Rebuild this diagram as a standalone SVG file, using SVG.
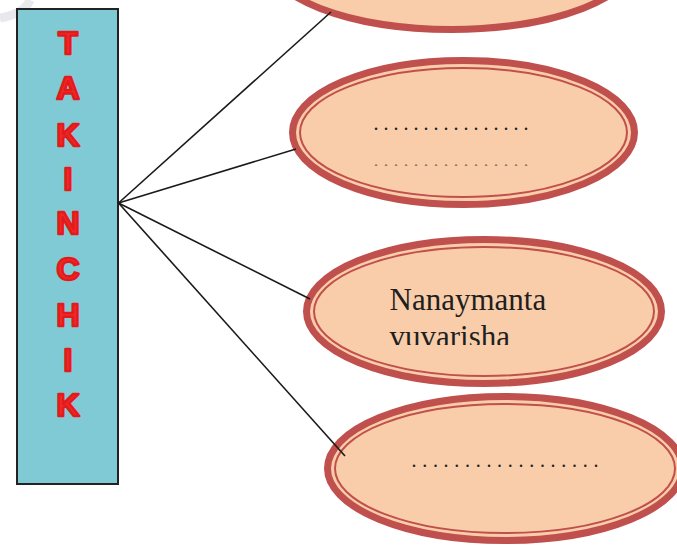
<svg xmlns="http://www.w3.org/2000/svg" width="677" height="545" viewBox="0 0 677 545">
<style>
.outer{fill:#F9CDA9;stroke:#C0504D;stroke-width:7}
.inner{fill:none;stroke:#C0504D;stroke-width:2}
.letter{font-family:"Liberation Sans",Arial,sans-serif;font-weight:bold;font-size:32px;fill:#EE2B2B;stroke:#E41A1A;stroke-width:2.6;stroke-linejoin:round;text-anchor:middle}
.dots{font-family:"Liberation Serif","Times New Roman",serif;font-size:20px;fill:#222}
.lbl{font-family:"Liberation Serif","Times New Roman",serif;font-size:31px;fill:#1f1f1f}
.conn{stroke:#1a1a1a;stroke-width:1.6;fill:none}
</style>
<defs>
<clipPath id="clipN3"><rect x="380" y="280" width="200" height="65"/></clipPath>
<clipPath id="clipN2"><rect x="360" y="110" width="200" height="55.6"/></clipPath>
</defs>
<rect width="677" height="545" fill="#ffffff"/>
<path d="M0,18 Q24,14 30,0" fill="none" stroke="#E8E9EC" stroke-width="9"/>
<g id="takinchik">
<rect x="17" y="9" width="101" height="475" fill="#80CAD6" stroke="#222" stroke-width="2"/>
<text class="letter" x="68" y="54">T</text>
<text class="letter" x="68" y="99">A</text>
<text class="letter" x="68" y="146">K</text>
<text class="letter" x="68" y="190">I</text>
<text class="letter" x="68" y="234">N</text>
<text class="letter" x="68" y="280">C</text>
<text class="letter" x="68" y="326">H</text>
<text class="letter" x="68" y="371">I</text>
<text class="letter" x="68" y="416">K</text>
</g>
<g id="node1">
<ellipse class="outer" cx="451.5" cy="-42.5" rx="185.5" ry="72"/>
</g>
<g id="node2">
<ellipse class="outer" cx="463.5" cy="132.5" rx="171" ry="72"/>
<ellipse class="inner" cx="463.5" cy="132.5" rx="163.5" ry="64.5"/>
<text class="dots" x="373.5" y="130.2" letter-spacing="5">................</text>
<text class="dots" x="373.5" y="167" letter-spacing="5" clip-path="url(#clipN2)">................</text>
</g>
<g id="node3">
<ellipse class="outer" cx="484" cy="311.5" rx="177.5" ry="72"/>
<ellipse class="inner" cx="484" cy="311.5" rx="170" ry="64.5"/>
<text class="lbl" x="389.5" y="310">Nanaymanta</text>
<text class="lbl" x="389.5" y="346.8" clip-path="url(#clipN3)">vuvarisha</text>
</g>
<g id="node4">
<ellipse class="outer" cx="505" cy="468.5" rx="177.5" ry="72"/>
<ellipse class="inner" cx="505" cy="468.5" rx="170" ry="64.5"/>
<text class="dots" x="411.5" y="467.3" letter-spacing="5.7">..................</text>
</g>
<g id="connectors">
<line class="conn" x1="118.5" y1="203" x2="331" y2="12"/>
<line class="conn" x1="118.5" y1="203" x2="296" y2="149"/>
<line class="conn" x1="118.5" y1="203" x2="310" y2="299"/>
<line class="conn" x1="118.5" y1="203" x2="345" y2="456"/>
</g>
</svg>
